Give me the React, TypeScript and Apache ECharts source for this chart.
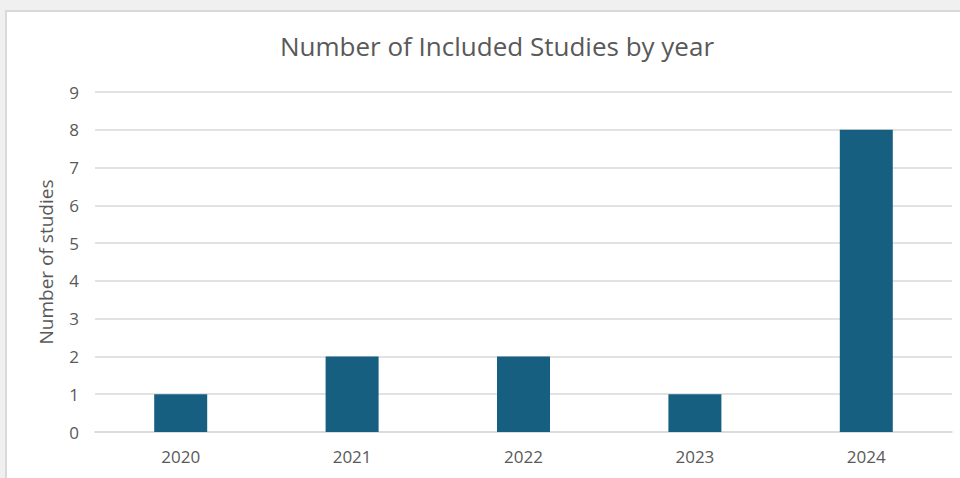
import React, { useEffect, useRef } from "react";
import * as echarts from "echarts";

const years = ["2020", "2021", "2022", "2023", "2024"];
const studies = [1, 2, 2, 1, 8];
const titleText = "Number of Included Studies by year";
const yAxisTitle = "Number of studies";

export default function App() {
  const ref = useRef<HTMLDivElement>(null);
  useEffect(() => {
    if (!ref.current) return;
    const chart = echarts.init(ref.current, null, { renderer: "svg" });
    const font = "'Open Sans', 'Liberation Sans', sans-serif";
    chart.setOption({
      animation: false,
      backgroundColor: "#f0f0f0",
      graphic: [
        {
          type: "rect",
          z: -10,
          silent: true,
          shape: { x: 6, y: 11, width: 970, height: 480 },
          style: { fill: "#ffffff", stroke: "#d9d9d9", lineWidth: 2 },
        },
      ],
      title: {
        text: titleText,
        left: 492,
        textAlign: "center",
        top: 28,
        textStyle: { fontFamily: font, fontSize: 26, fontWeight: "normal", color: "#595959" },
      },
      grid: { left: 95, right: 8, top: 92, bottom: 46 },
      xAxis: {
        type: "category",
        data: years,
        axisLine: { lineStyle: { color: "#d9d9d9", width: 1.5 } },
        axisTick: { show: false },
        axisLabel: { color: "#595959", fontFamily: font, fontSize: 17, margin: 16 },
      },
      yAxis: {
        type: "value",
        min: 0,
        max: 9,
        interval: 1,
        name: yAxisTitle,
        nameLocation: "middle",
        nameGap: 40,
        nameTextStyle: { color: "#595959", fontFamily: font, fontSize: 19 },
        axisLine: { show: false },
        axisTick: { show: false },
        axisLabel: { color: "#595959", fontFamily: font, fontSize: 17, margin: 16 },
        splitLine: { lineStyle: { color: "#d9d9d9", width: 1.5 } },
      },
      series: [
        {
          type: "bar",
          data: studies,
          barWidth: 53,
          itemStyle: { color: "#175f80" },
        },
      ],
    });
    return () => chart.dispose();
  }, []);
  return (
    <div
      ref={ref}
      style={{ position: "fixed", left: 0, top: 0, width: 960, height: 478 }}
    />
  );
}
